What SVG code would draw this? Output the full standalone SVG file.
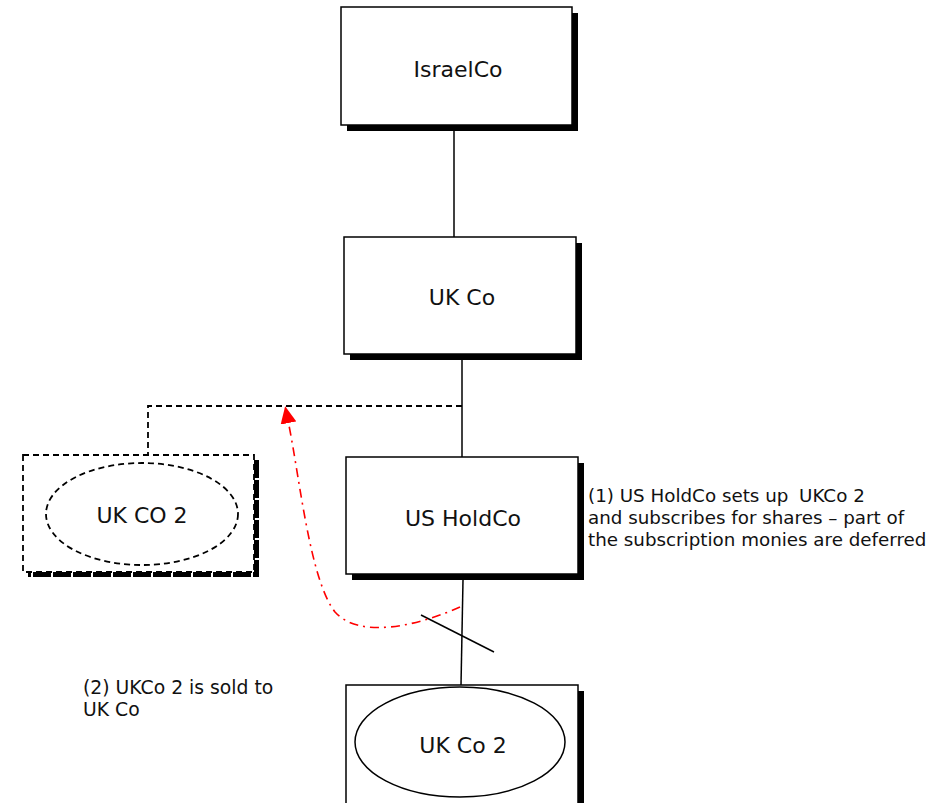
<svg xmlns="http://www.w3.org/2000/svg" width="944" height="803" viewBox="0 0 944 803">
  <style>
    .box { fill: #fff; stroke: #000; stroke-width: 1.5; }
    .shadow { fill: #000; }
    .dash { fill: none; stroke: #000; stroke-width: 1.8; stroke-dasharray: 6 4; }
    .line { fill: none; stroke: #000; stroke-width: 1.5; }
    .label { font-family: "DejaVu Sans", sans-serif; font-size: 22px; fill: #111; text-anchor: middle; }
    .note { font-family: "DejaVu Sans", sans-serif; font-size: 18.3px; fill: #111; }
    .move { fill: none; stroke: #f00; stroke-width: 1.6; stroke-dasharray: 9 5 2 5; }
  </style>
  <defs>
    <marker id="redHead" markerUnits="userSpaceOnUse" viewBox="0 0 17 16" refX="0" refY="8" markerWidth="17" markerHeight="16" orient="auto">
      <path d="M0,0 L17,8 L0,16 z" fill="#f00"/>
    </marker>
  </defs>
  <rect width="944" height="803" fill="#fff"/>

  <g id="connectors">
    <line class="line" x1="454" y1="131" x2="454" y2="237"/>
    <line class="line" x1="462" y1="360" x2="462" y2="457"/>
    <line class="line" x1="463" y1="580" x2="461" y2="685"/>
    <line class="line" x1="421" y1="615" x2="494" y2="652"/>
    <polyline class="dash" points="462,406 148,406 148,455"/>
    <path class="move" d="M460,607 C420,625 360,640 335,612 C310,580 300,480 288.5,423" marker-end="url(#redHead)"/>
  </g>

  <g id="israelco">
    <rect class="shadow" x="347" y="13" width="231" height="118"/>
    <rect class="box" x="341" y="7" width="231" height="118"/>
    <text class="label" x="458" y="77">IsraelCo</text>
  </g>

  <g id="ukco">
    <rect class="shadow" x="350" y="243" width="232" height="117"/>
    <rect class="box" x="344" y="237" width="232" height="117"/>
    <text class="label" x="462" y="305">UK Co</text>
  </g>

  <g id="usholdco">
    <rect class="shadow" x="352" y="463" width="232" height="117"/>
    <rect class="box" x="346" y="457" width="232" height="117"/>
    <text class="label" x="463" y="526">US HoldCo</text>
  </g>

  <g id="ukco2-new">
    <polyline fill="none" stroke="#000" stroke-width="5" stroke-dasharray="18 2" points="256.5,460 256.5,574.5 28,574.5"/>
    <rect x="23" y="455" width="231" height="117" fill="#fff" class="dash"/>
    <ellipse class="dash" cx="142" cy="514" rx="96" ry="51"/>
    <text class="label" x="142" y="523">UK CO 2</text>
  </g>

  <g id="ukco2">
    <rect class="shadow" x="352" y="691" width="232" height="120"/>
    <rect class="box" x="346" y="685" width="232" height="125"/>
    <ellipse class="line" cx="460" cy="742" rx="105" ry="55"/>
    <text class="label" x="463" y="753">UK Co 2</text>
  </g>

  <g id="note-1">
    <text class="note" x="588" y="502">(1) US HoldCo sets up <tspan x="799">UKCo 2</tspan></text>
    <text class="note" x="588" y="524">and subscribes for shares – part of</text>
    <text class="note" x="588" y="546">the subscription monies are deferred</text>
  </g>

  <g id="note-2">
    <text class="note" x="83" y="694" style="font-size:18.8px">(2) UKCo 2 is sold to</text>
    <text class="note" x="83" y="716" style="font-size:18.8px">UK Co</text>
  </g>
</svg>
